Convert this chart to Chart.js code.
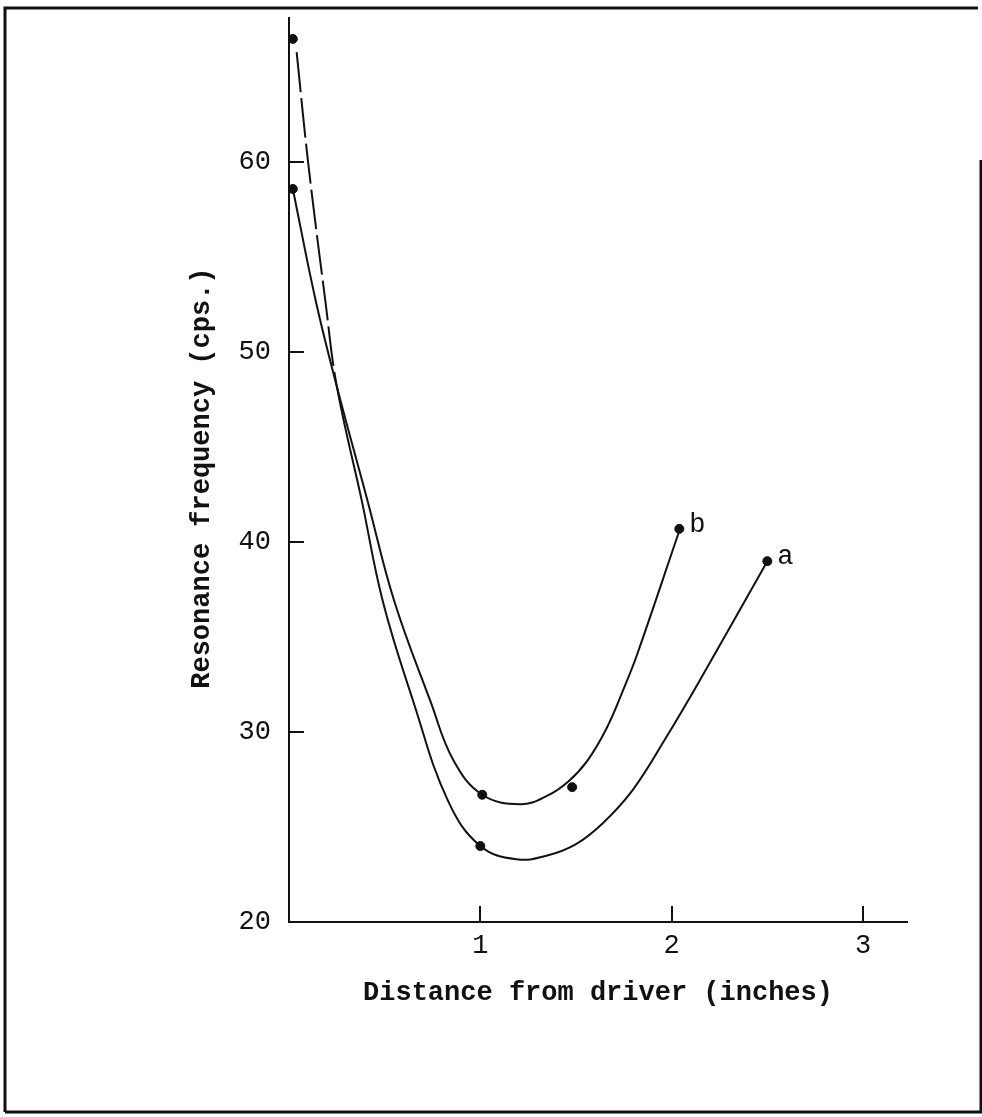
<!DOCTYPE html>
<html>
<head>
<meta charset="utf-8">
<script src="https://cdn.jsdelivr.net/npm/chart.js@4.4.1/dist/chart.umd.min.js"></script>
<style>
  html, body { margin: 0; padding: 0; background: #fff; }
  #wrap { position: relative; width: 982px; height: 1117px; }
</style>
</head>
<body>
<div id="wrap"><canvas id="chart" width="982" height="1117"></canvas></div>
<script>
// tick labels
const xTicks = [1, 2, 3];
const yTicks = [20, 30, 40, 50, 60];

// faired curves
const curveAx = [0.04, 0.10, 0.19, 0.25, 0.38, 0.49, 0.65, 0.83, 1.00, 1.19, 1.35, 1.50, 1.64, 1.80, 1.97, 2.14, 2.50];
const curveAy = [65.8, 60.0, 52.7, 48.2, 42.2, 36.9, 31.6, 26.4, 24.0, 23.3, 23.5, 24.1, 25.2, 27.0, 29.7, 32.6, 39.0];
const curveBx = [0.02, 0.14, 0.25, 0.41, 0.55, 0.74, 0.86, 1.01, 1.21, 1.35, 1.46, 1.56, 1.66, 1.75, 1.82, 2.04];
const curveBy = [58.6, 52.7, 48.2, 42.2, 36.9, 31.6, 28.5, 26.7, 26.2, 26.65, 27.4, 28.5, 30.2, 32.3, 34.1, 40.6];

// measured points
const pointsAx = [0.02, 1.00, 2.50];
const pointsAy = [66.5, 24.0, 39.0];
const pointsBx = [0.02, 1.01, 1.48, 2.04];
const pointsBy = [58.6, 26.7, 27.1, 40.7];

const seriesNames = ['a', 'b'];

const FONT = "'Liberation Mono', 'DejaVu Sans Mono', monospace";
const INK = '#111';

const toXY = (xs, ys) => xs.map((x, i) => ({ x: x, y: ys[i] }));

// page frame (scanned border, right side starts lower)
const frame = {
    id: 'frame',
    beforeDraw(chart) {
        const ctx = chart.ctx;
        ctx.save();
        ctx.fillStyle = '#fff';
        ctx.fillRect(0, 0, chart.width, chart.height);
        ctx.strokeStyle = INK;
        ctx.lineWidth = 3;
        ctx.beginPath();
        ctx.moveTo(5, 1112); ctx.lineTo(5, 8); ctx.lineTo(978, 8);
        ctx.moveTo(5, 1112); ctx.lineTo(981, 1112); ctx.lineTo(981, 160);
        ctx.stroke();
        ctx.restore();
    }
};

// inward tick marks
const axisTicks = {
    id: 'axisTicks',
    afterDatasetsDraw(chart) {
        const { ctx, chartArea, scales: { x, y } } = chart;
        ctx.save();
        ctx.strokeStyle = INK;
        ctx.lineWidth = 2;
        ctx.beginPath();
        yTicks.slice(1).forEach(v => {
            const py = Math.round(y.getPixelForValue(v));
            ctx.moveTo(chartArea.left, py);
            ctx.lineTo(chartArea.left + 15, py);
        });
        xTicks.forEach(v => {
            const px = Math.round(x.getPixelForValue(v));
            ctx.moveTo(px, chartArea.bottom);
            ctx.lineTo(px, chartArea.bottom - 16);
        });
        ctx.stroke();
        ctx.restore();
    }
};

// 'a' / 'b' beside the last measured point of each curve
const curveLabels = {
    id: 'curveLabels',
    afterDatasetsDraw(chart) {
        const ctx = chart.ctx;
        ctx.save();
        ctx.fillStyle = INK;
        ctx.font = '27px ' + FONT;
        ctx.textBaseline = 'middle';
        [2, 3].forEach((di, k) => {
            const pts = chart.getDatasetMeta(di).data;
            const last = pts[pts.length - 1];
            ctx.fillText(seriesNames[k], last.x + 10, last.y - 4);
        });
        ctx.restore();
    }
};

new Chart(document.getElementById('chart'), {
    type: 'line',
    data: {
        datasets: [
            {
                label: seriesNames[0],
                data: toXY(curveAx, curveAy),
                borderColor: INK, borderWidth: 2, pointRadius: 0, fill: false,
                tension: 0.4,
                segment: { borderDash: c => c.p0DataIndex < 3 ? [40, 6] : undefined }
            },
            {
                label: seriesNames[1],
                data: toXY(curveBx, curveBy),
                borderColor: INK, borderWidth: 2, pointRadius: 0, fill: false,
                tension: 0.4
            },
            {
                type: 'scatter', label: seriesNames[0] + ' points',
                data: toXY(pointsAx, pointsAy),
                pointRadius: 4.5, pointBackgroundColor: INK, pointBorderColor: INK, showLine: false
            },
            {
                type: 'scatter', label: seriesNames[1] + ' points',
                data: toXY(pointsBx, pointsBy),
                pointRadius: 4.5, pointBackgroundColor: INK, pointBorderColor: INK, showLine: false
            }
        ]
    },
    options: {
        responsive: false,
        animation: false,
        devicePixelRatio: 1,
        layout: { padding: { top: 18, right: 75, bottom: 0, left: 0 } },
        plugins: { legend: { display: false }, tooltip: { enabled: false } },
        scales: {
            x: {
                type: 'linear', min: 0, max: 3.23,
                afterBuildTicks: s => { s.ticks = xTicks.map(v => ({ value: v })); },
                afterFit: s => { s.height = 195; s.paddingLeft = 0; s.paddingRight = 0; },
                grid: { display: false, drawTicks: false },
                border: { display: true, color: INK, width: 2 },
                ticks: { color: INK, font: { family: FONT, size: 27 }, padding: 8, autoSkip: false, maxRotation: 0 },
                title: {
                    display: true, text: 'Distance from driver (inches)', color: INK,
                    font: { family: FONT, size: 27, weight: 'bold' },
                    padding: { top: 0, bottom: 108 }
                }
            },
            y: {
                type: 'linear', min: 20, max: 67.6,
                afterBuildTicks: s => { s.ticks = yTicks.map(v => ({ value: v })); },
                afterFit: s => { s.width = 289; s.paddingTop = 0; s.paddingBottom = 0; },
                grid: { display: false, drawTicks: false },
                border: { display: true, color: INK, width: 2 },
                ticks: { color: INK, font: { family: FONT, size: 27 }, padding: 18, autoSkip: false },
                title: {
                    display: true, text: 'Resonance frequency (cps.) ', color: INK,
                    font: { family: FONT, size: 27, weight: 'bold' },
                    padding: { top: 186, bottom: 0 }
                }
            }
        }
    },
    plugins: [frame, axisTicks, curveLabels]
});
</script>
</body>
</html>
